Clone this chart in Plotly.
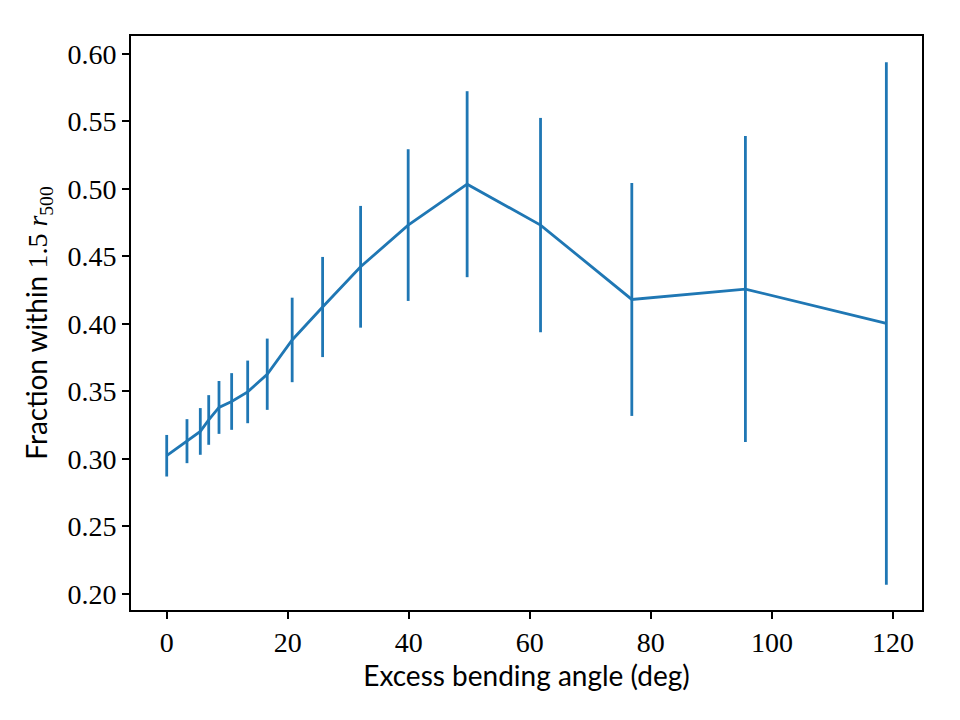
import plotly.graph_objects as go

# Data
angle = [0.0, 3.35, 5.55, 6.94, 8.64, 10.73, 13.38, 16.61, 20.73, 25.76,
         32.04, 39.90, 49.64, 61.77, 76.85, 95.62, 118.91]
fraction = [0.3023, 0.3131, 0.3203, 0.3288, 0.3381, 0.3425, 0.3496, 0.3627,
            0.3881, 0.4125, 0.4423, 0.4732, 0.5035, 0.4732, 0.4181, 0.4258, 0.4003]
error = [0.0154, 0.0163, 0.0173, 0.0184, 0.0196, 0.0210, 0.0232, 0.0264,
         0.0313, 0.0371, 0.0451, 0.0562, 0.0689, 0.0794, 0.0863, 0.1134, 0.1936]

x_ticks = [0, 20, 40, 60, 80, 100, 120]
y_ticks = [0.20, 0.25, 0.30, 0.35, 0.40, 0.45, 0.50, 0.55, 0.60]

blue = "#1f77b4"
serif = "Liberation Serif, DejaVu Serif, serif"
sans = "Lato, Noto Sans, DejaVu Sans, sans-serif"

fig = go.Figure()
fig.add_trace(go.Scatter(
    x=angle, y=fraction, mode="lines",
    line=dict(color=blue, width=2.8),
    error_y=dict(type="data", array=error, visible=True, color=blue,
                 thickness=2.8, width=0),
    showlegend=False,
))

axis_common = dict(
    showline=True, mirror=True, linecolor="black", linewidth=1.6,
    ticks="outside", ticklen=7, tickwidth=1.6, tickcolor="black",
    showgrid=False, zeroline=False,
    tickfont=dict(family=serif, size=28, color="black"),
)

fig.update_layout(
    width=960, height=720,
    margin=dict(l=131, r=38, t=36, b=110),
    paper_bgcolor="white", plot_bgcolor="white",
    xaxis=dict(range=[-5.9, 124.8], tickvals=x_ticks,
               ticktext=[str(v) for v in x_ticks],
               title=dict(text="Excess bending angle (deg)",
                          font=dict(family=sans, size=28, color="black"),
                          standoff=5),
               **axis_common),
    yaxis=dict(range=[0.188, 0.6133], tickvals=y_ticks,
               ticktext=[f"{v:.2f}" for v in y_ticks],
               title=dict(text="Fraction within <span style='font-family:Liberation Serif'>1.5 <i>r</i><sub>500</sub></span>",
                          font=dict(family=sans, size=28, color="black"),
                          standoff=12),
               **axis_common),
)

fig.write_html("out.html")
